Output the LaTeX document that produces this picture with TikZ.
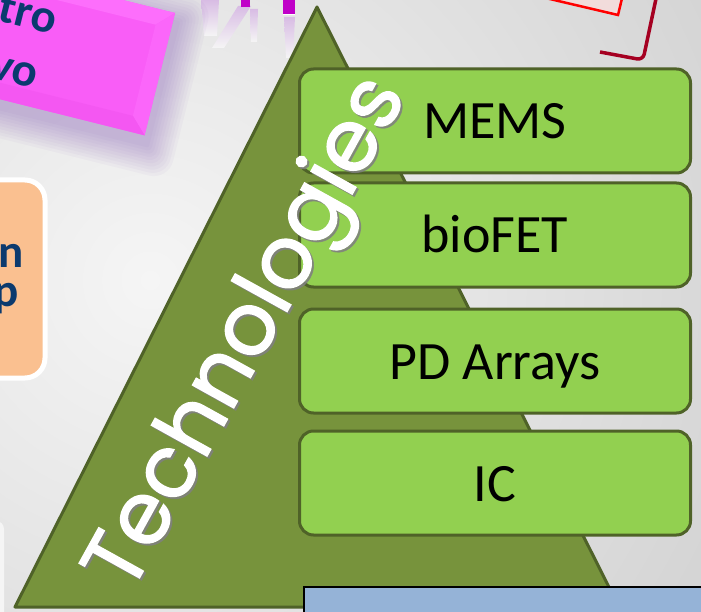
\documentclass[tikz,border=0pt]{standalone}
\usepackage{fontspec}
\setmainfont{Carlito}
\newfontfamily\techfont{Poppins}[FakeBold=1.6]
\usetikzlibrary{positioning}

\definecolor{olivefill}{HTML}{77933C}
\definecolor{oliveline}{HTML}{4F6228}
\definecolor{limefill}{HTML}{92D050}
\definecolor{pinkfill}{HTML}{F95DF7}
\definecolor{pinklight}{HTML}{FD6EFC}
\definecolor{pinkmid}{HTML}{FB66FA}
\definecolor{pinkdark}{HTML}{F457F2}
\definecolor{navytext}{HTML}{0B3A6E}
\definecolor{peachfill}{HTML}{FAC090}
\definecolor{steelfill}{HTML}{95B3D7}
\definecolor{rosefill}{HTML}{F2DCDB}
\definecolor{darkred}{HTML}{A50021}
\definecolor{glowpurple}{HTML}{7A4AB0}
\definecolor{magentadark}{HTML}{C000C8}
\definecolor{reflectpink}{HTML}{D8BCE4}
\definecolor{bglight}{HTML}{F5F5F5}
\definecolor{bgdark}{HTML}{BCBCBC}

\begin{document}
\begin{tikzpicture}[x=1pt,y=-1pt]

	\tikzset{
	  techbox/.style={
		draw=oliveline,
		fill=limefill,
		line width=3pt,
		rounded corners=14pt,
		minimum width=391pt,
		minimum height=104pt,
		text height=36pt,
		text depth=0pt,
		font=\fontsize{54}{60}\selectfont,
	  },
	  edgetext/.style={
		font=\fontsize{47}{50}\selectfont\bfseries,
		text=navytext,
		inner sep=0pt,
	  },
	  techtext/.style={
		font=\techfont\fontsize{86}{88}\selectfont,
		rotate=61,
		anchor=base west,
		inner sep=0pt,
	  },
	}
	\useasboundingbox (0,0) rectangle (701,612);
	\clip (0,0) rectangle (701,612);
	\shade[inner color=bglight,outer color=bgdark] (-950,-820) rectangle (1250,1380);

	% reflections at the top
	\shade[top color=reflectpink,bottom color=bglight] (201,0) -- (219,0) -- (217,36) -- (204,36) -- cycle;
	\shade[top color=reflectpink,bottom color=bglight] (238,6) -- (251,6) -- (224,48) -- (212,48) -- cycle;
	\shade[top color=reflectpink,bottom color=bglight] (250,9) -- (258,9) -- (257,42) -- (251,42) -- cycle;
	\shade[top color=reflectpink,bottom color=bglight] (284,17) -- (295,17) -- (293,58) -- (286,58) -- cycle;
	\fill[magentadark] (241,-2) rectangle (250,7);
	\fill[magentadark] (283,-2) rectangle (295,14);
	\draw[white,line width=1pt] (283,14.5) -- (295,14.5);

	% pink box
	\begin{scope}[shift={(175,13)},rotate=-14]
		\foreach \g in {1,...,10}
			\fill[glowpurple,opacity=0.04,rounded corners=\g*2pt] (-430-\g*3,10-\g*3) rectangle (4+\g*3,134+\g*3);
		\fill[pinkfill] (-420,0) rectangle (0,126);
		\fill[pinklight] (-420,0) -- (0,0) -- (-16,16) -- (-420,16) -- cycle;
		\fill[pinkmid] (0,0) -- (0,126) -- (-16,110) -- (-16,16) -- cycle;
		\fill[pinkdark] (-420,126) -- (0,126) -- (-16,110) -- (-420,110) -- cycle;
	\end{scope}
	\node[edgetext,rotate=-14,anchor=base east] (tro) at (53,35) {tro};
	\node[edgetext,rotate=-14,anchor=base east] (vo) at (34,89) {vo};

	% peach box
	\draw[white,line width=5pt,fill=peachfill,rounded corners=20pt] (-40,180) rectangle (45,378);
	\node[edgetext,anchor=base east] (n) at (24,268) {n};
	\node[edgetext,anchor=base east] (p) at (19,306) {p};

	% white box at the bottom left
	\fill[bglight,rounded corners=8pt] (-40,521) rectangle (4,650);

	% red shapes
	\draw[red,line width=2.5pt,fill=rosefill] (520,-8) -- (618,15) -- (624,-10) -- cycle;
	\draw[darkred,line width=3.5pt,rounded corners=6pt] (600,52) -- (643,60) -- (657,-6);

	% pyramid
	\draw[draw=oliveline,fill=olivefill,line width=3pt,line join=round] (15,607) -- (317,7) -- (619,607) -- cycle;

	\node[techbox] (mems) at (495,121) {MEMS};
	\node[techbox,below=7pt of mems] (biofet) {bioFET};
	\node[techbox,below=19pt of biofet] (pdarr) {PD Arrays};
	\node[techbox,below=15pt of pdarr] (ic) {IC};

	\node[techtext,text=black!50,opacity=0.8] (techshadow) at (132,597) {Technologies};
	\node[techtext,text=white] (tech) at (130,595) {Technologies};

	% blue box
	\draw[black,line width=1.5pt,fill=steelfill] (304,587) rectangle (720,640);

\end{tikzpicture}
\end{document}
